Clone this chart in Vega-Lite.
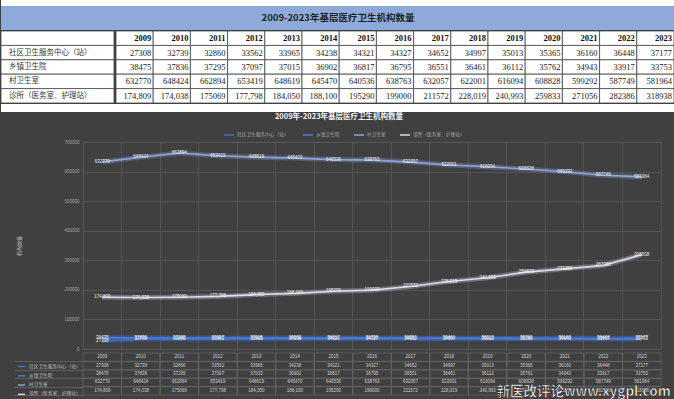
{
  "$schema": "https://vega.github.io/schema/vega-lite/v6.json",
  "background": "#404040",
  "padding": 0,
  "spacing": 0,
  "config": {
    "view": {"stroke": null},
    "font": "Noto Sans CJK SC",
    "concat": {"spacing": 0}
  },
  "datasets": {
    "long": [
      {"year": "2009", "series": "社区卫生服务中心（站）", "value": 27308, "label": "27308"},
      {"year": "2010", "series": "社区卫生服务中心（站）", "value": 32739, "label": "32739"},
      {"year": "2011", "series": "社区卫生服务中心（站）", "value": 32860, "label": "32860"},
      {"year": "2012", "series": "社区卫生服务中心（站）", "value": 33562, "label": "33562"},
      {"year": "2013", "series": "社区卫生服务中心（站）", "value": 33965, "label": "33965"},
      {"year": "2014", "series": "社区卫生服务中心（站）", "value": 34238, "label": "34238"},
      {"year": "2015", "series": "社区卫生服务中心（站）", "value": 34321, "label": "34321"},
      {"year": "2016", "series": "社区卫生服务中心（站）", "value": 34327, "label": "34327"},
      {"year": "2017", "series": "社区卫生服务中心（站）", "value": 34652, "label": "34652"},
      {"year": "2018", "series": "社区卫生服务中心（站）", "value": 34997, "label": "34997"},
      {"year": "2019", "series": "社区卫生服务中心（站）", "value": 35013, "label": "35013"},
      {"year": "2020", "series": "社区卫生服务中心（站）", "value": 35365, "label": "35365"},
      {"year": "2021", "series": "社区卫生服务中心（站）", "value": 36160, "label": "36160"},
      {"year": "2022", "series": "社区卫生服务中心（站）", "value": 36448, "label": "36448"},
      {"year": "2023", "series": "社区卫生服务中心（站）", "value": 37177, "label": "37177"},
      {"year": "2009", "series": "乡镇卫生院", "value": 38475, "label": "38475"},
      {"year": "2010", "series": "乡镇卫生院", "value": 37836, "label": "37836"},
      {"year": "2011", "series": "乡镇卫生院", "value": 37295, "label": "37295"},
      {"year": "2012", "series": "乡镇卫生院", "value": 37097, "label": "37097"},
      {"year": "2013", "series": "乡镇卫生院", "value": 37015, "label": "37015"},
      {"year": "2014", "series": "乡镇卫生院", "value": 36902, "label": "36902"},
      {"year": "2015", "series": "乡镇卫生院", "value": 36817, "label": "36817"},
      {"year": "2016", "series": "乡镇卫生院", "value": 36795, "label": "36795"},
      {"year": "2017", "series": "乡镇卫生院", "value": 36551, "label": "36551"},
      {"year": "2018", "series": "乡镇卫生院", "value": 36461, "label": "36461"},
      {"year": "2019", "series": "乡镇卫生院", "value": 36112, "label": "36112"},
      {"year": "2020", "series": "乡镇卫生院", "value": 35762, "label": "35762"},
      {"year": "2021", "series": "乡镇卫生院", "value": 34943, "label": "34943"},
      {"year": "2022", "series": "乡镇卫生院", "value": 33917, "label": "33917"},
      {"year": "2023", "series": "乡镇卫生院", "value": 33753, "label": "33753"},
      {"year": "2009", "series": "村卫生室", "value": 632770, "label": "632770"},
      {"year": "2010", "series": "村卫生室", "value": 648424, "label": "648424"},
      {"year": "2011", "series": "村卫生室", "value": 662894, "label": "662894"},
      {"year": "2012", "series": "村卫生室", "value": 653419, "label": "653419"},
      {"year": "2013", "series": "村卫生室", "value": 648619, "label": "648619"},
      {"year": "2014", "series": "村卫生室", "value": 645470, "label": "645470"},
      {"year": "2015", "series": "村卫生室", "value": 640536, "label": "640536"},
      {"year": "2016", "series": "村卫生室", "value": 638763, "label": "638763"},
      {"year": "2017", "series": "村卫生室", "value": 632057, "label": "632057"},
      {"year": "2018", "series": "村卫生室", "value": 622001, "label": "622001"},
      {"year": "2019", "series": "村卫生室", "value": 616094, "label": "616094"},
      {"year": "2020", "series": "村卫生室", "value": 608828, "label": "608828"},
      {"year": "2021", "series": "村卫生室", "value": 599292, "label": "599292"},
      {"year": "2022", "series": "村卫生室", "value": 587749, "label": "587749"},
      {"year": "2023", "series": "村卫生室", "value": 581964, "label": "581964"},
      {"year": "2009", "series": "诊所（医务室、护理站）", "value": 174809, "label": "174,809"},
      {"year": "2010", "series": "诊所（医务室、护理站）", "value": 174038, "label": "174,038"},
      {"year": "2011", "series": "诊所（医务室、护理站）", "value": 175069, "label": "175069"},
      {"year": "2012", "series": "诊所（医务室、护理站）", "value": 177798, "label": "177,798"},
      {"year": "2013", "series": "诊所（医务室、护理站）", "value": 184050, "label": "184,050"},
      {"year": "2014", "series": "诊所（医务室、护理站）", "value": 188100, "label": "188,100"},
      {"year": "2015", "series": "诊所（医务室、护理站）", "value": 195290, "label": "195290"},
      {"year": "2016", "series": "诊所（医务室、护理站）", "value": 199000, "label": "199000"},
      {"year": "2017", "series": "诊所（医务室、护理站）", "value": 211572, "label": "211572"},
      {"year": "2018", "series": "诊所（医务室、护理站）", "value": 228019, "label": "228,019"},
      {"year": "2019", "series": "诊所（医务室、护理站）", "value": 240993, "label": "240,993"},
      {"year": "2020", "series": "诊所（医务室、护理站）", "value": 259833, "label": "259833"},
      {"year": "2021", "series": "诊所（医务室、护理站）", "value": 271056, "label": "271056"},
      {"year": "2022", "series": "诊所（医务室、护理站）", "value": 282386, "label": "282386"},
      {"year": "2023", "series": "诊所（医务室、护理站）", "value": 318938, "label": "318938"}
    ]
  },
  "vconcat": [
    {
      "vconcat": [
        {
          "width": 674, "height": 6,
          "view": {"fill": "white", "stroke": null},
          "data": {"values": []},
          "mark": "text",
          "encoding": {}
        },
        {
          "width": 674, "height": 24,
          "view": {"fill": "#8eaadb", "stroke": null},
          "data": {"values": [{"t": "2009-2023年基层医疗卫生机构数量"}]},
          "mark": {"type": "text", "fontSize": 9.5, "fontWeight": "bold", "color": "#1f1f1f", "baseline": "middle"},
          "encoding": {"text": {"field": "t"}}
        },
        {
          "hconcat": [
            {
              "width": 113, "height": 72,
              "view": {"fill": "white", "stroke": null},
              "data": {"name": "long"},
              "layer": [
                {
                  "transform": [{"filter": "datum.year == '2009'"}],
                  "mark": {"type": "rect", "fill": "white", "stroke": "#444", "strokeWidth": 0.8},
                  "encoding": {
                    "y": {"field": "series", "type": "nominal", "scale": {"domain": ["年份", "社区卫生服务中心（站）", "乡镇卫生院", "村卫生室", "诊所（医务室、护理站）"], "paddingInner": 0, "paddingOuter": 0}, "axis": null}
                  }
                },
                {
                  "transform": [{"filter": "datum.year == '2009' && datum.series == '村卫生室'"}],
                  "mark": {"type": "rect", "fill": "white", "stroke": "#444", "strokeWidth": 0.8},
                  "encoding": {"y": {"datum": "年份"}}
                },
                {
                  "transform": [{"filter": "datum.year == '2009'"}],
                  "mark": {"type": "text", "align": "left", "baseline": "middle", "fontSize": 7.5, "color": "#333", "dx": 8},
                  "encoding": {
                    "x": {"datum": 0, "type": "quantitative", "scale": {"domain": [0, 1]}, "axis": null},
                    "y": {"field": "series", "type": "nominal"},
                    "text": {"field": "series"}
                  }
                }
              ]
            },
            {
              "width": 558, "height": 72,
              "view": {"fill": "white", "stroke": null},
              "data": {"name": "long"},
              "encoding": {
                "x": {"field": "year", "type": "nominal", "scale": {"type": "band", "paddingInner": 0, "paddingOuter": 0}, "axis": null}
              },
              "layer": [
                {
                  "mark": {"type": "rect", "fill": "white", "stroke": "#444", "strokeWidth": 0.8},
                  "encoding": {
                    "y": {"field": "series", "type": "nominal", "scale": {"domain": ["年份", "社区卫生服务中心（站）", "乡镇卫生院", "村卫生室", "诊所（医务室、护理站）"], "paddingInner": 0, "paddingOuter": 0}, "axis": null}
                  }
                },
                {
                  "transform": [{"filter": "datum.series == '村卫生室'"}],
                  "mark": {"type": "rect", "fill": "white", "stroke": "#444", "strokeWidth": 0.8},
                  "encoding": {"y": {"datum": "年份"}}
                },
                {
                  "mark": {"type": "text", "align": "right", "baseline": "middle", "fontSize": 8.5, "font": "Liberation Serif", "color": "#222", "dx": -2},
                  "encoding": {
                    "x": {"field": "year", "type": "nominal", "bandPosition": 1},
                    "y": {"field": "series", "type": "nominal"},
                    "text": {"field": "label"}
                  }
                },
                {
                  "transform": [{"filter": "datum.series == '村卫生室'"}],
                  "mark": {"type": "text", "align": "right", "baseline": "middle", "fontSize": 8.5, "font": "Liberation Serif", "fontWeight": "bold", "color": "#111", "dx": -2},
                  "encoding": {
                    "x": {"field": "year", "type": "nominal", "bandPosition": 1},
                    "y": {"datum": "年份"},
                    "text": {"field": "year"}
                  }
                }
              ]
            }
          ]
        },
        {
          "width": 674, "height": 8,
          "view": {"fill": "white", "stroke": null},
          "data": {"values": []},
          "mark": "text",
          "encoding": {}
        }
      ]
    },
    {
      "hconcat": [
        {
          "width": 12, "height": 1,
          "data": {"values": []},
          "mark": "text",
          "encoding": {}
        },
        {
          "vconcat": [
            {
              "width": 578, "height": 207,
              "view": {"stroke": "#585858", "strokeWidth": 0.8},
              "title": {"text": "2009年-2023年基层医疗卫生机构数量", "color": "#f2f2f2", "fontSize": 7.5, "fontWeight": "bold", "anchor": "middle", "frame": "bounds", "offset": 9},
              "data": {"name": "long"},
              "encoding": {
                "x": {"field": "year", "type": "nominal", "bandPosition": 0.5, "scale": {"type": "band", "paddingInner": 0, "paddingOuter": 0},
                  "axis": {"grid": true, "gridColor": "#585858", "gridWidth": 0.8, "bandPosition": 0, "labels": false, "ticks": false, "domain": false, "title": null}},
                "y": {"field": "value", "type": "quantitative", "scale": {"domain": [0, 700000]},
                  "axis": {"values": [0, 100000, 200000, 300000, 400000, 500000, 600000, 700000], "format": "d", "labelColor": "#a6a6a6", "labelFontSize": 4.5, "labelFont": "Liberation Sans", "labelPadding": 4, "grid": true, "gridColor": "#585858", "gridWidth": 0.8, "domain": false, "ticks": false, "title": "机构数量", "titleColor": "#bfbfbf", "titleFontSize": 5, "titleFontWeight": "normal", "titlePadding": 42}},
                "color": {"field": "series", "type": "nominal",
                  "scale": {"domain": ["社区卫生服务中心（站）", "乡镇卫生院", "村卫生室", "诊所（医务室、护理站）"], "range": ["#3d6fd4", "#4a7de0", "#8fa5e0", "#dcdcf0"]},
                  "legend": {"orient": "none", "legendX": 140, "legendY": -13, "direction": "horizontal", "title": null, "symbolType": "stroke", "symbolSize": 100, "symbolStrokeWidth": 1.5, "symbolOpacity": 1, "labelFontSize": 4.7, "labelColor": "#a6a6a6", "labelOffset": 2, "columnPadding": 11}}
              },
              "layer": [
                {"mark": {"type": "line", "strokeWidth": 5, "opacity": 0.3}},
                {"mark": {"type": "line", "strokeWidth": 1.6}},
                {"mark": {"type": "text", "fontSize": 4.5, "font": "Liberation Sans", "color": "#f2f2f2", "baseline": "middle"},
                  "encoding": {"text": {"field": "label"}, "color": {"value": "#f2f2f2"}}}
              ]
            },
            {
              "width": 578, "height": 42,
              "data": {"name": "long"},
              "encoding": {
                "x": {"field": "year", "type": "nominal", "scale": {"type": "band", "paddingInner": 0, "paddingOuter": 0}, "axis": null}
              },
              "layer": [
                {
                  "mark": {"type": "rect", "fillOpacity": 0, "stroke": "#686868", "strokeWidth": 0.7},
                  "encoding": {
                    "y": {"field": "series", "type": "nominal", "scale": {"domain": ["年份", "社区卫生服务中心（站）", "乡镇卫生院", "村卫生室", "诊所（医务室、护理站）"], "paddingInner": 0, "paddingOuter": 0},
                      "axis": {"orient": "left", "values": ["社区卫生服务中心（站）", "乡镇卫生院", "村卫生室", "诊所（医务室、护理站）"], "labels": false, "domain": false, "ticks": true, "tickBand": "extent", "tickSize": 69, "tickColor": "#686868", "tickWidth": 0.7, "grid": false, "title": null}}
                  }
                },
                {
                  "transform": [{"filter": "datum.series == '村卫生室'"}],
                  "mark": {"type": "rect", "fillOpacity": 0, "stroke": "#686868", "strokeWidth": 0.7},
                  "encoding": {"y": {"datum": "年份"}}
                },
                {
                  "mark": {"type": "text", "baseline": "middle", "fontSize": 4.5, "font": "Liberation Sans", "color": "#d0d0d0"},
                  "encoding": {"y": {"field": "series", "type": "nominal"}, "text": {"field": "label"}}
                },
                {
                  "transform": [{"filter": "datum.series == '村卫生室'"}],
                  "mark": {"type": "text", "baseline": "middle", "fontSize": 4.5, "font": "Liberation Sans", "color": "#d0d0d0"},
                  "encoding": {"y": {"datum": "年份"}, "text": {"field": "year"}}
                },
                {
                  "mark": {"type": "line", "opacity": 0},
                  "encoding": {
                    "y": {"field": "series", "type": "nominal"},
                    "color": {"field": "series", "type": "nominal",
                      "scale": {"domain": ["社区卫生服务中心（站）", "乡镇卫生院", "村卫生室", "诊所（医务室、护理站）"], "range": ["#3d6fd4", "#4a7de0", "#8fa5e0", "#dcdcf0"]},
                      "legend": {"orient": "none", "legendX": -66, "legendY": 9, "direction": "vertical", "title": null, "symbolType": "stroke", "symbolSize": 50, "symbolStrokeWidth": 1.5, "symbolOpacity": 1, "labelFontSize": 4.7, "labelColor": "#bfbfbf", "labelOffset": 3, "rowPadding": 1.3}}
                  }
                },
                {
                  "transform": [{"filter": "datum.year == '2019' && datum.series == '村卫生室'"}],
                  "mark": {"type": "text", "align": "left", "baseline": "middle", "fontSize": 13.5, "fontWeight": "bold", "color": "white", "stroke": "#2a2a2a", "strokeWidth": 0.6, "dy": 1},
                  "encoding": {
                    "x": {"field": "year", "type": "nominal", "bandPosition": 0.73},
                    "y": {"datum": "诊所（医务室、护理站）"},
                    "text": {"value": "新医改评论www.xygpl.com"}
                  }
                }
              ]
            }
          ],
          "resolve": {"scale": {"color": "independent"}, "legend": {"color": "independent"}}
        }
      ]
    }
  ]
}
